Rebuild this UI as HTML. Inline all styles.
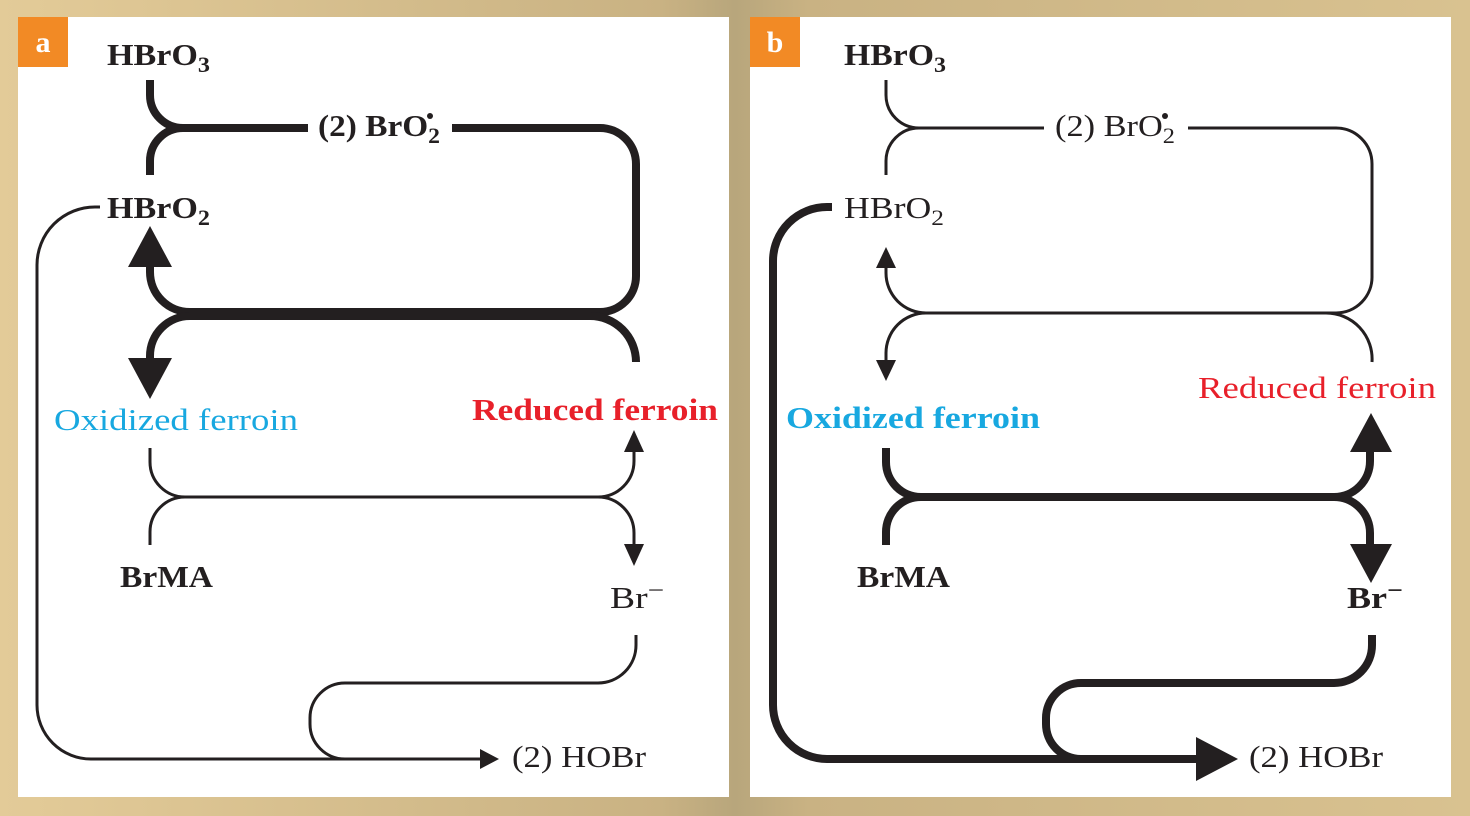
<!DOCTYPE html>
<html><head><meta charset="utf-8"><style>
html,body{margin:0;padding:0}
body{width:1470px;height:816px;overflow:hidden;background:linear-gradient(90deg,#e3cb98 0%,#c9b283 45%,#b8a67c 50%,#c9b283 55%,#d9c290 100%)}
text{font-family:"Liberation Serif",serif}
</style></head><body>
<svg width="1470" height="816" viewBox="0 0 1470 816" xmlns="http://www.w3.org/2000/svg" style="position:absolute;left:0;top:0">
<rect x="18" y="17" width="711" height="780" fill="#fff"/>
<rect x="750" y="17" width="701" height="780" fill="#fff"/>
<rect x="18" y="17" width="50" height="50" fill="#f28a25"/>
<rect x="750" y="17" width="50" height="50" fill="#f28a25"/>
<text x="43" y="52" font-size="30" font-weight="bold" fill="#fff" text-anchor="middle">a</text>
<text x="775" y="52" font-size="30" font-weight="bold" fill="#fff" text-anchor="middle">b</text>

<g fill="none" stroke="#231f20" stroke-linecap="butt">
<g stroke-width="8">
<path d="M150,80 V95 A33,33 0 0 0 183,128 H308"/>
<path d="M150,175 V161 A33,33 0 0 1 183,128"/>
<path d="M452,128 H600 A36,36 0 0 1 636,164 V276 A36,36 0 0 1 600,312 H190 A40,40 0 0 1 150,272 V262"/>
<path d="M636,362 A46,46 0 0 0 590,316 H190 A40,40 0 0 0 150,356 V362"/>
</g>
<g stroke-width="3">
<path d="M150,448 V462 A35,35 0 0 0 185,497 H598 A36,36 0 0 0 634,461 V450"/>
<path d="M150,545 V532 A35,35 0 0 1 185,497"/>
<path d="M598,497 A36,36 0 0 1 634,533 V546"/>
<path d="M636,635 V645 A38,38 0 0 1 598,683 H345 A35,35 0 0 0 310,718 V724 A35,35 0 0 0 345,759 H482"/>
<path d="M100,207 H95 A58,58 0 0 0 37,265 V705 A54,54 0 0 0 91,759 H345"/>
</g>
<g stroke-width="3">
<path d="M886,80 V95 A33,33 0 0 0 919,128 H1044"/>
<path d="M886,175 V161 A33,33 0 0 1 919,128"/>
<path d="M1188,128 H1336 A36,36 0 0 1 1372,164 V276 A36,36 0 0 1 1336,313 H926 A40,40 0 0 1 886,273 V266"/>
<path d="M1372,362 A46,46 0 0 0 1326,313 H926 A40,40 0 0 0 886,353 V362"/>
</g>
<g stroke-width="8">
<path d="M886,448 V462 A35,35 0 0 0 921,497 H1334 A36,36 0 0 0 1370,461 V450"/>
<path d="M886,545 V532 A35,35 0 0 1 921,497"/>
<path d="M1334,497 A36,36 0 0 1 1370,533 V546"/>
<path d="M1372,635 V645 A38,38 0 0 1 1334,683 H1081 A35,35 0 0 0 1046,718 V724 A35,35 0 0 0 1081,759 H1200"/>
<path d="M832,207 H827 A54,54 0 0 0 773,261 V705 A54,54 0 0 0 827,759 H1081"/>
</g>
</g>
<g fill="#231f20">
<polygon points="150,226 128,267 172,267"/>
<polygon points="150,399 128,358 172,358"/>
<polygon points="634,430 624,452 644,452"/>
<polygon points="634,566 624,544 644,544"/>
<polygon points="499,759 480,749 480,769"/>
<polygon points="886,247 876,268 896,268"/>
<polygon points="886,381 876,360 896,360"/>
<polygon points="1371,413 1350,452 1392,452"/>
<polygon points="1371,583 1350,544 1392,544"/>
<polygon points="1238,759 1196,737 1196,781"/>
</g>

<g fill="#231f20" font-size="31">
<text x="107" y="65" font-weight="bold" textLength="103" lengthAdjust="spacingAndGlyphs">HBrO<tspan font-size="22" dy="7">3</tspan></text>
<text x="318" y="136" font-weight="bold" textLength="122" lengthAdjust="spacingAndGlyphs">(2) BrO<tspan font-size="22" dy="7">2</tspan></text>
<circle cx="430" cy="116" r="3"/>
<text x="107" y="218" font-weight="bold" textLength="103" lengthAdjust="spacingAndGlyphs">HBrO<tspan font-size="22" dy="7">2</tspan></text>
<text x="120" y="587" font-weight="bold" textLength="93" lengthAdjust="spacingAndGlyphs">BrMA</text>
<text x="610" y="608" textLength="54" lengthAdjust="spacingAndGlyphs">Br<tspan font-size="24" dy="-10">−</tspan></text>
<text x="512" y="767" textLength="134" lengthAdjust="spacingAndGlyphs">(2) HOBr</text>

<text x="844" y="65" font-weight="bold" textLength="102" lengthAdjust="spacingAndGlyphs">HBrO<tspan font-size="22" dy="7">3</tspan></text>
<text x="1055" y="136" textLength="120" lengthAdjust="spacingAndGlyphs">(2) BrO<tspan font-size="22" dy="7">2</tspan></text>
<circle cx="1165" cy="116" r="3"/>
<text x="844" y="218" textLength="100" lengthAdjust="spacingAndGlyphs">HBrO<tspan font-size="22" dy="7">2</tspan></text>
<text x="857" y="587" font-weight="bold" textLength="93" lengthAdjust="spacingAndGlyphs">BrMA</text>
<text x="1347" y="608" font-weight="bold" textLength="56" lengthAdjust="spacingAndGlyphs">Br<tspan font-size="24" dy="-10">−</tspan></text>
<text x="1249" y="767" textLength="134" lengthAdjust="spacingAndGlyphs">(2) HOBr</text>
</g>
<text x="54" y="430" font-size="31" fill="#18a8e0" textLength="244" lengthAdjust="spacingAndGlyphs">Oxidized ferroin</text>
<text x="472" y="420" font-size="31" font-weight="bold" fill="#e8202a" textLength="246" lengthAdjust="spacingAndGlyphs">Reduced ferroin</text>
<text x="786" y="428" font-size="31" font-weight="bold" fill="#18a8e0" textLength="254" lengthAdjust="spacingAndGlyphs">Oxidized ferroin</text>
<text x="1198" y="398" font-size="31" fill="#e8202a" textLength="238" lengthAdjust="spacingAndGlyphs">Reduced ferroin</text>
</svg>
</body></html>
